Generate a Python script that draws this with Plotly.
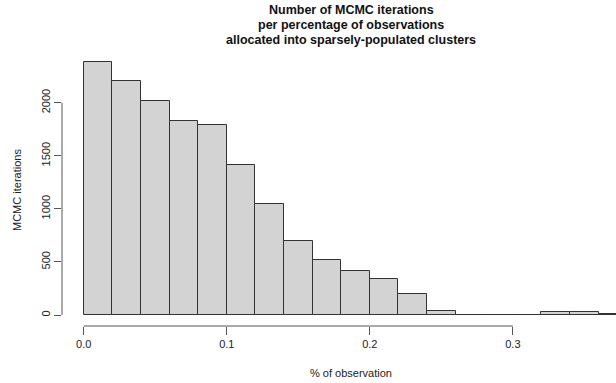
import plotly.graph_objects as go

bin_start = [0.00, 0.02, 0.04, 0.06, 0.08, 0.10, 0.12, 0.14, 0.16, 0.18,
             0.20, 0.22, 0.24, 0.26, 0.28, 0.30, 0.32, 0.34, 0.36]
counts = [2380, 2204, 2013, 1825, 1787, 1410, 1046, 697, 518, 414,
          335, 196, 42, 0, 0, 0, 26, 26, 8]
bin_width = 0.02
y_ticks = [0, 500, 1000, 1500, 2000]
x_ticks = [0.0, 0.1, 0.2, 0.3]
x_tick_labels = ["0.0", "0.1", "0.2", "0.3"]
title_lines = ["Number of MCMC iterations",
               "per percentage of observations",
               "allocated into sparsely-populated clusters"]

FONT = "Liberation Sans, Arial, sans-serif"
AX = "#555555"
W, H = 616, 383
L, R, T, B = 62, 0, 52, H - 326

fig = go.Figure()
fig.add_trace(go.Bar(
    x=[s + bin_width / 2 for s in bin_start],
    y=counts,
    width=[bin_width] * len(bin_start),
    marker=dict(color="#D3D3D3", line=dict(color="#333333", width=1)),
    hoverinfo="skip",
))

def py(pix):
    return (H - B - pix) / (H - T - B)

def px(pix):
    return (pix - L) / (W - L - R)

fig.update_layout(
    width=W, height=H,
    margin=dict(l=L, r=R, t=T, b=B, autoexpand=False),
    paper_bgcolor="white", plot_bgcolor="white",
    showlegend=False,
    bargap=0,
    font=dict(family=FONT, size=11, color="#222222"),
    xaxis=dict(
        range=[-0.0152, 0.3721], automargin=False,
        tickvals=x_ticks, ticktext=x_tick_labels,
        ticks="outside", ticklen=8, tickcolor=AX, tickwidth=1,
        showgrid=False, zeroline=False, showline=False,
        tickfont=dict(size=11, color="#222222"),
    ),
    yaxis=dict(
        range=[-103.6, 2477.6], automargin=False,
        tickvals=y_ticks,
        tickangle=-90,
        ticks="outside", ticklen=7, tickcolor=AX, tickwidth=1,
        showgrid=False, zeroline=False, showline=False,
        tickfont=dict(size=11, color="#222222"),
    ),
)

for i, line in enumerate(title_lines):
    fig.add_annotation(text="<b>" + line + "</b>", xref="paper", yref="paper",
                       x=px(351), y=py(10 + 15 * i), xanchor="center", yanchor="middle",
                       showarrow=False, font=dict(family=FONT, size=12.5, color="#111111"))

fig.add_annotation(text="% of observation", xref="paper", yref="paper",
                   x=px(351), y=py(373), xanchor="center", yanchor="middle",
                   showarrow=False, font=dict(size=11))
fig.add_annotation(text="MCMC iterations", xref="paper", yref="paper",
                   x=px(17), y=py(190), xanchor="center", yanchor="middle", textangle=-90,
                   showarrow=False, font=dict(size=11))

fig.add_shape(type="line", xref="paper", yref="y", x0=0, x1=0,
              y0=y_ticks[0], y1=y_ticks[-1], line=dict(color=AX, width=1))
fig.add_shape(type="line", xref="x", yref="paper", x0=x_ticks[0], x1=x_ticks[-1],
              y0=0, y1=0, line=dict(color=AX, width=1))

fig.write_html("out.html", config={"displayModeBar": False},
               post_script="document.body.style.margin='0';")
